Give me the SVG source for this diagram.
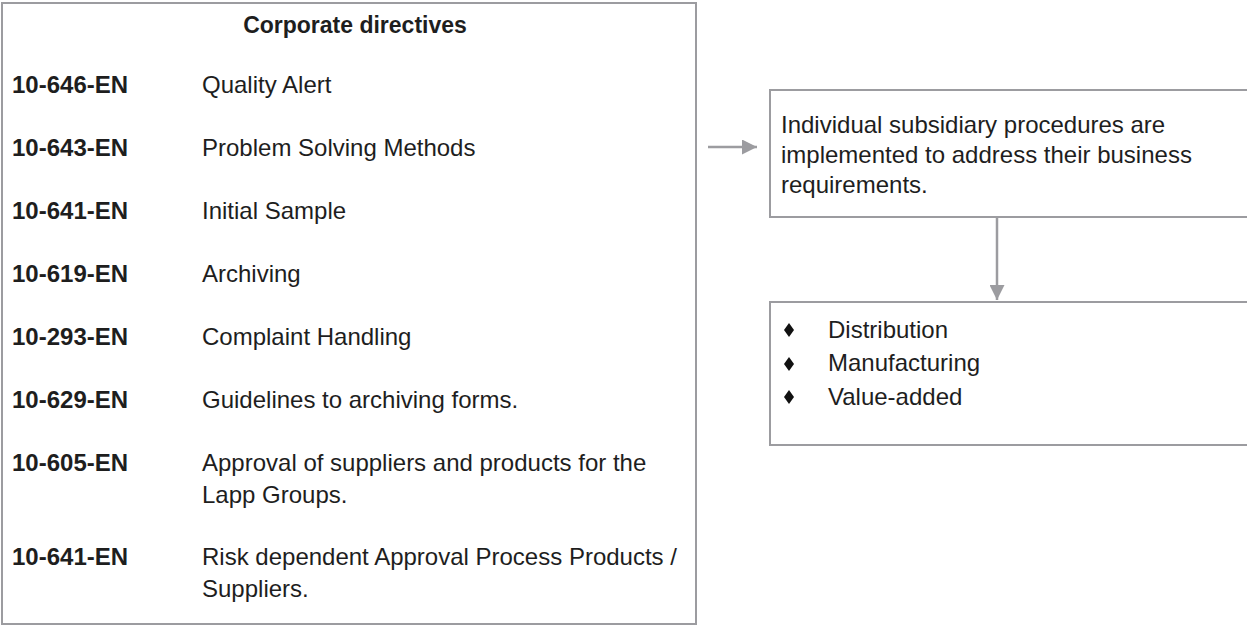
<svg xmlns="http://www.w3.org/2000/svg" width="1247" height="625" viewBox="0 0 1247 625">
  <style>
    .box { fill: #ffffff; stroke: #9c9ca0; stroke-width: 2; }
    .txt { font-family: "Liberation Sans", Arial, sans-serif; font-size: 24px; fill: #1e1e1e; }
    .code { font-weight: bold; }
    .title { font-family: "Liberation Sans", Arial, sans-serif; font-size: 23px; font-weight: bold; fill: #1e1e1e; text-anchor: middle; }
    .link { fill: none; stroke: #9c9ca0; stroke-width: 2.5; }
    .bullet { fill: #111111; }
  </style>
  <defs>
    <marker id="arrow" viewBox="0 0 12 12" refX="12" refY="6" markerWidth="6" markerHeight="6" markerUnits="strokeWidth" orient="auto">
      <path d="M0,0 L12,6 L0,12 Z" fill="#9c9ca0"/>
    </marker>
  </defs>

  <rect width="1247" height="625" fill="#ffffff"/>

  <!-- Directive list -->
  <g id="corporate-directives">
    <rect class="box" x="2" y="3" width="694" height="621"/>
    <text class="title" x="355" y="33">Corporate directives</text>
    <g class="txt">
      <text class="code" x="12" y="93">10-646-EN</text>
      <text x="202" y="93">Quality Alert</text>
      <text class="code" x="12" y="156">10-643-EN</text>
      <text x="202" y="156">Problem Solving Methods</text>
      <text class="code" x="12" y="219">10-641-EN</text>
      <text x="202" y="219">Initial Sample</text>
      <text class="code" x="12" y="282">10-619-EN</text>
      <text x="202" y="282">Archiving</text>
      <text class="code" x="12" y="345">10-293-EN</text>
      <text x="202" y="345">Complaint Handling</text>
      <text class="code" x="12" y="408">10-629-EN</text>
      <text x="202" y="408">Guidelines to archiving forms.</text>
      <text class="code" x="12" y="471">10-605-EN</text>
      <text x="202" y="471">Approval of suppliers and products for the</text>
      <text x="202" y="503">Lapp Groups.</text>
      <text class="code" x="12" y="565">10-641-EN</text>
      <text x="202" y="565">Risk dependent Approval Process Products /</text>
      <text x="202" y="597">Suppliers.</text>
    </g>
  </g>

  <!-- Subsidiary procedures -->
  <g id="subsidiary-procedures">
    <rect class="box" x="770" y="90" width="490" height="127"/>
    <g class="txt">
      <text x="781" y="133">Individual subsidiary procedures are</text>
      <text x="781" y="163">implemented to address their business</text>
      <text x="781" y="193">requirements.</text>
    </g>
  </g>

  <!-- Business types -->
  <g id="business-types">
    <rect class="box" x="770" y="302" width="490" height="143"/>
    <path class="bullet" d="M789,323 L794,330 L789,337 L784,330 Z"/>
    <path class="bullet" d="M789,357 L794,364 L789,371 L784,364 Z"/>
    <path class="bullet" d="M789,390 L794,397 L789,404 L784,397 Z"/>
    <g class="txt">
      <text x="828" y="338">Distribution</text>
      <text x="828" y="371">Manufacturing</text>
      <text x="828" y="405">Value-added</text>
    </g>
  </g>

  <!-- Connectors -->
  <g id="connectors">
    <line class="link" x1="708" y1="147" x2="757" y2="147" marker-end="url(#arrow)"/>
    <line class="link" x1="997" y1="218" x2="997" y2="300" marker-end="url(#arrow)"/>
  </g>
</svg>
